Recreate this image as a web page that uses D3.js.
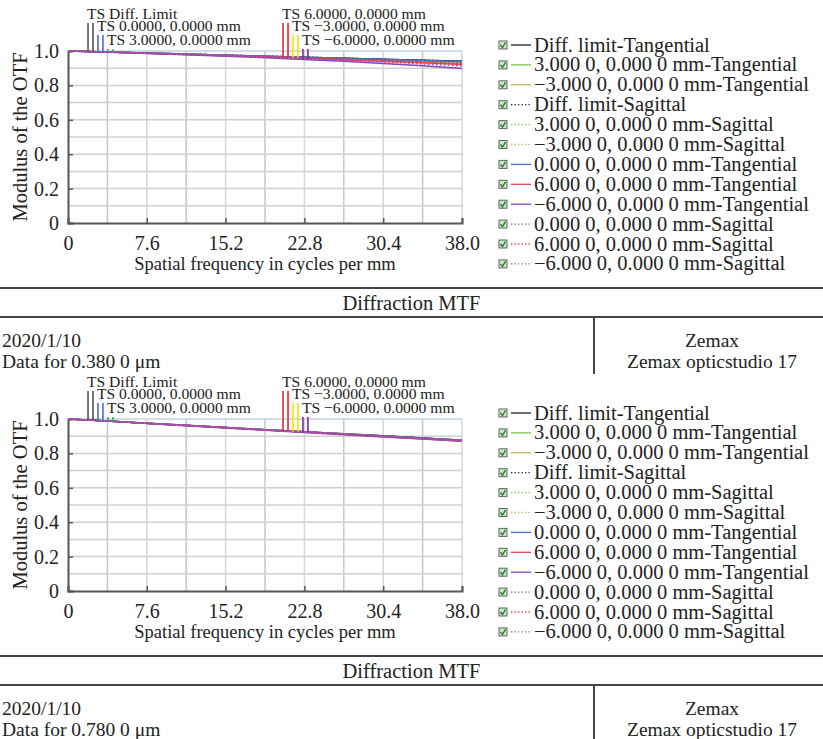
<!DOCTYPE html>
<html>
<head>
<meta charset="utf-8">
<script src="https://cdn.jsdelivr.net/npm/d3@7"></script>
<style>
  body { margin: 0; background: #fff; }
  text { font-family: "Liberation Serif", "Times New Roman", serif; fill: #222; }
</style>
</head>
<body>
<div id="chart"></div>
<script>
// spatial frequency samples (cycles/mm)
const freq = [0, 3.8, 7.6, 11.4, 15.2, 19.0, 22.8, 26.6, 30.4, 34.2, 38.0];
const xTicks = [0, 7.6, 15.2, 22.8, 30.4, 38.0];
const yTicks = [0, 0.2, 0.4, 0.6, 0.8, 1.0];

// legend order as written by Zemax
const legendLabels = [
    "Diff. limit-Tangential",
    "3.000 0, 0.000 0 mm-Tangential",
    "\u22123.000 0, 0.000 0 mm-Tangential",
    "Diff. limit-Sagittal",
    "3.000 0, 0.000 0 mm-Sagittal",
    "\u22123.000 0, 0.000 0 mm-Sagittal",
    "0.000 0, 0.000 0 mm-Tangential",
    "6.000 0, 0.000 0 mm-Tangential",
    "\u22126.000 0, 0.000 0 mm-Tangential",
    "0.000 0, 0.000 0 mm-Sagittal",
    "6.000 0, 0.000 0 mm-Sagittal",
    "\u22126.000 0, 0.000 0 mm-Sagittal"
];
const seriesColor = ["#222222", "#72c655", "#bcbc55", "#222222", "#72c655", "#bcbc55",
                     "#4a6fc0", "#e04050", "#8a44b4", "#4a6fc0", "#e04050", "#b055c0"];
const seriesDotted = [false, false, false, true, true, true, false, false, false, true, true, true];

// MTF values, one row per legend entry
const mtf380 = [
    [1, .994, .988, .982, .976, .970, .964, .958, .952, .946, .941],
    [1, .994, .988, .981, .975, .968, .962, .955, .948, .941, .934],
    [1, .994, .987, .980, .973, .966, .958, .950, .942, .934, .926],
    [1, .994, .988, .982, .976, .970, .964, .958, .952, .946, .941],
    [1, .994, .987, .981, .974, .967, .960, .953, .946, .939, .932],
    [1, .994, .987, .980, .973, .966, .959, .951, .944, .936, .929],
    [1, .994, .988, .982, .976, .970, .964, .958, .951, .945, .939],
    [1, .994, .987, .980, .973, .965, .957, .949, .940, .931, .922],
    [1, .993, .986, .978, .970, .961, .951, .940, .928, .914, .898],
    [1, .994, .988, .982, .976, .970, .963, .957, .951, .945, .938],
    [1, .994, .987, .981, .974, .967, .960, .952, .944, .936, .928],
    [1, .994, .987, .980, .972, .964, .955, .946, .936, .925, .913]
];
const mtf780 = [
    [1, .988, .975, .963, .951, .938, .926, .914, .902, .889, .877],
    [1, .988, .975, .962, .950, .937, .925, .912, .900, .887, .875],
    [1, .988, .975, .962, .949, .937, .924, .911, .899, .886, .873],
    [1, .988, .975, .963, .951, .938, .926, .914, .902, .889, .877],
    [1, .988, .975, .962, .950, .938, .925, .913, .900, .888, .875],
    [1, .988, .975, .962, .950, .937, .925, .912, .900, .887, .874],
    [1, .988, .975, .963, .950, .938, .926, .913, .901, .889, .876],
    [1, .988, .975, .962, .949, .936, .924, .911, .898, .885, .872],
    [1, .988, .974, .961, .948, .935, .922, .909, .896, .883, .870],
    [1, .988, .975, .963, .950, .938, .926, .913, .901, .889, .876],
    [1, .988, .975, .962, .950, .937, .925, .912, .899, .887, .874],
    [1, .988, .975, .962, .949, .936, .924, .911, .898, .885, .872]
];

// "TS" leader labels: frequency where the pair of leaders sits, and T/S series used
const tsLabels = ["TS Diff. Limit", "TS 0.0000, 0.0000 mm", "TS 3.0000, 0.0000 mm",
                  "TS 6.0000, 0.0000 mm", "TS \u22123.0000, 0.0000 mm", "TS \u22126.0000, 0.0000 mm"];
const tsFreq = [1.93, 2.89, 3.86, 20.74, 21.70, 22.66];
const tsRow = [0, 1, 2, 0, 1, 2];
const tsColor = ["#555555", "#4a6fd0", "#22b060", "#f02020", "#f2e000", "#7030a0"];
const tsSeries = [[0, 3], [6, 9], [1, 4], [7, 10], [2, 5], [8, 11]];

const wavelengths = ["Data for 0.380 0 \u03bcm", "Data for 0.780 0 \u03bcm"];
const panelData = [mtf380, mtf780];

const W = 823, H = 739;
const svg = d3.select("#chart").append("svg")
    .attr("width", W).attr("height", H)
    .style("background", "#fff");

const plotL = 68, plotR = 462, plotT = 51, plotB = 223, panelStep = 368;

panelData.forEach((mtf, p) => {
    const g = svg.append("g").attr("transform", `translate(0,${p * panelStep})`);

    const x = d3.scaleLinear().domain([0, 38]).range([plotL, plotR]);
    const y = d3.scaleLinear().domain([0, 1]).range([plotB, plotT]);

    // grid
    g.append("g").selectAll("line")
        .data(d3.range(1, 11).map((i) => i * 3.8))
        .join("line")
        .attr("x1", (d) => x(d)).attr("x2", (d) => x(d))
        .attr("y1", plotT).attr("y2", plotB)
        .attr("stroke", (d, i) => (i % 2 === 0 ? "#c6c6c6" : "#d6d6d6")).attr("stroke-width", 1.5);
    g.append("g").selectAll("line")
        .data(d3.range(1, 11).map((i) => i / 10))
        .join("line")
        .attr("x1", plotL).attr("x2", plotR)
        .attr("y1", (d) => y(d)).attr("y2", (d) => y(d))
        .attr("stroke", (d) => (d === 1 ? "#c4d2e0" : "#d0d0d0")).attr("stroke-width", 1.5);

    // axes
    const fmt = (d) => (d === 0 ? "0" : d3.format(".1f")(d));
    const xAxis = g.append("g")
        .attr("transform", `translate(0,${plotB})`)
        .call(d3.axisBottom(x).tickValues(xTicks).tickSize(-5).tickPadding(10).tickFormat(fmt));
    const yAxis = g.append("g")
        .attr("transform", `translate(${plotL},0)`)
        .call(d3.axisLeft(y).tickValues(yTicks).tickSize(-5).tickPadding(9).tickFormat(fmt));
    [xAxis, yAxis].forEach((a) => {
        a.select(".domain").attr("stroke", "#555").attr("stroke-width", 2);
        a.selectAll(".tick line").attr("stroke", "#555").attr("stroke-width", 1.5);
        a.selectAll(".tick text").style("font-family", "Liberation Serif")
            .style("font-size", "20px").attr("fill", "#222");
    });
    xAxis.selectAll(".tick text").attr("dy", "0.85em");

    g.append("text")
        .attr("text-anchor", "middle")
        .attr("transform", "rotate(-90)")
        .attr("x", -(plotT + plotB) / 2)
        .attr("y", 27)
        .style("font-size", "20.5px")
        .text("Modulus of the OTF");
    g.append("text")
        .attr("text-anchor", "middle")
        .attr("x", (plotL + plotR) / 2)
        .attr("y", 270)
        .style("font-size", "18.5px")
        .text("Spatial frequency in cycles per mm");

    // curves
    const line = d3.line().x((d, i) => x(freq[i])).y((d) => y(d));
    g.append("g").selectAll("path")
        .data(mtf)
        .join("path")
        .attr("d", line)
        .attr("fill", "none")
        .attr("stroke", (d, i) => seriesColor[i])
        .attr("stroke-width", 1.5)
        .attr("stroke-dasharray", (d, i) => (seriesDotted[i] ? "2,2" : null));

    // TS leader labels
    const rowBase = [plotT - 32, plotT - 20, plotT - 6];
    tsLabels.forEach((lab, k) => {
        const f0 = tsFreq[k];
        [0, 1].forEach((j) => {
            const f = f0 + j * 0.48;
            const interp = d3.scaleLinear().domain(freq).range(mtf[tsSeries[k][j]]);
            g.append("line")
                .attr("x1", x(f)).attr("x2", x(f))
                .attr("y1", rowBase[tsRow[k]] + 4)
                .attr("y2", y(interp(f)))
                .attr("stroke", tsColor[k]).attr("stroke-width", 1.6);
        });
        g.append("text")
            .attr("x", x(f0) - 1)
            .attr("y", rowBase[tsRow[k]])
            .style("font-size", "15.6px")
            .text(lab);
    });

    // legend
    const lg = g.append("g").attr("transform", "translate(499,45)");
    const rows = lg.selectAll("g")
        .data(legendLabels)
        .join("g")
        .attr("transform", (d, i) => `translate(0,${i * 19.9})`);
    rows.append("rect")
        .attr("x", 0).attr("y", -4).attr("width", 8).attr("height", 8)
        .attr("fill", "#cfe3cf").attr("stroke", "#5a6a5a").attr("stroke-width", 1);
    rows.append("path")
        .attr("d", "M1.5,0 L3.5,2.5 L6.5,-2.5")
        .attr("fill", "none").attr("stroke", "#2a7a2a").attr("stroke-width", 1.4);
    rows.append("line")
        .attr("x1", 12).attr("x2", 32).attr("y1", 0).attr("y2", 0)
        .attr("stroke", (d, i) => seriesColor[i])
        .attr("stroke-width", 1.3)
        .attr("stroke-dasharray", (d, i) => (seriesDotted[i] ? "1.3,2.2" : null));
    rows.append("text")
        .attr("x", 35).attr("y", 6.5)
        .style("font-size", "20.5px")
        .text((d) => d);

    // info table
    const tb = 288;
    g.append("line").attr("x1", 0).attr("x2", W).attr("y1", tb).attr("y2", tb)
        .attr("stroke", "#444").attr("stroke-width", 2);
    g.append("line").attr("x1", 0).attr("x2", W).attr("y1", tb + 29).attr("y2", tb + 29)
        .attr("stroke", "#444").attr("stroke-width", 2);
    g.append("line").attr("x1", 594).attr("x2", 594).attr("y1", tb + 29).attr("y2", tb + 86)
        .attr("stroke", "#444").attr("stroke-width", 2);
    g.append("text").attr("x", W / 2).attr("y", tb + 22).attr("text-anchor", "middle")
        .style("font-size", "20.5px").text("Diffraction MTF");
    g.append("text").attr("x", 2).attr("y", tb + 59)
        .style("font-size", "19.5px").text("2020/1/10");
    g.append("text").attr("x", 2).attr("y", tb + 80)
        .style("font-size", "19.5px").text(wavelengths[p]);
    g.append("text").attr("x", 712).attr("y", tb + 59).attr("text-anchor", "middle")
        .style("font-size", "19.5px").text("Zemax");
    g.append("text").attr("x", 712).attr("y", tb + 80).attr("text-anchor", "middle")
        .style("font-size", "19.5px").text("Zemax opticstudio 17");
});
</script>
</body>
</html>
